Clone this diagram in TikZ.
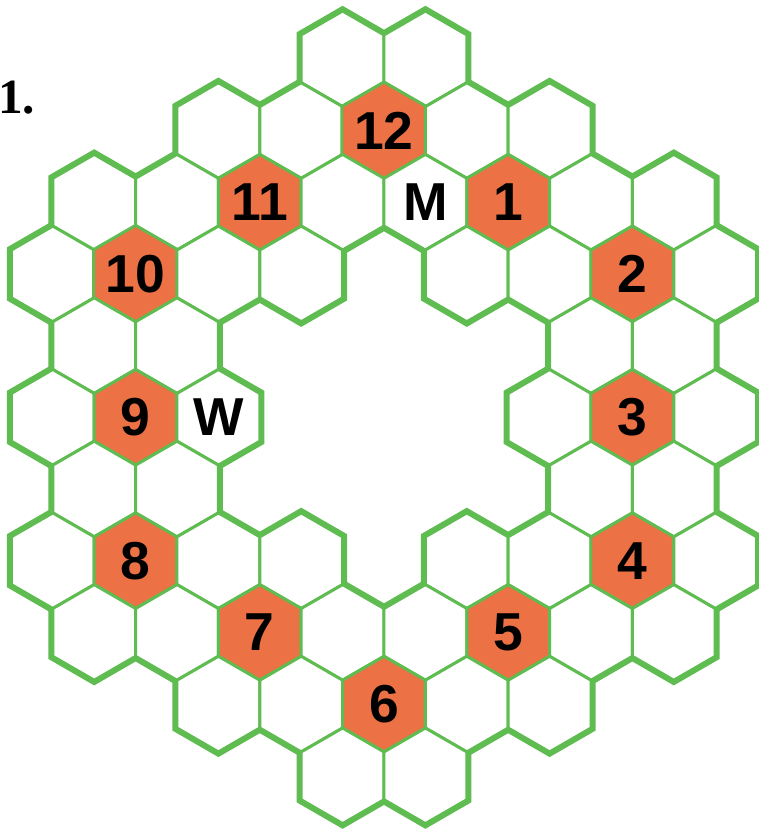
\documentclass[tikz,border=0pt]{standalone}
\usepackage{fontspec}
\setmainfont{Liberation Sans}
\newfontfamily\serifbold{Liberation Serif}
\usetikzlibrary{shapes.geometric, backgrounds}
\definecolor{hexgreen}{RGB}{95, 188, 80}
\definecolor{spot}{RGB}{236, 113, 68}

% row / column (half steps) / fill / label
\newcommand{\cells}{%
  0/7/white/, 0/9/white/,
  1/4/white/, 1/6/white/, 1/8/spot/12, 1/10/white/, 1/12/white/,
  2/1/white/, 2/3/white/, 2/5/spot/11, 2/7/white/, 2/9/white/M, 2/11/spot/1, 2/13/white/, 2/15/white/,
  3/0/white/, 3/2/spot/10, 3/4/white/, 3/6/white/, 3/10/white/, 3/12/white/, 3/14/spot/2, 3/16/white/,
  4/1/white/, 4/3/white/, 4/13/white/, 4/15/white/,
  5/0/white/, 5/2/spot/9, 5/4/white/W, 5/12/white/, 5/14/spot/3, 5/16/white/,
  6/1/white/, 6/3/white/, 6/13/white/, 6/15/white/,
  7/0/white/, 7/2/spot/8, 7/4/white/, 7/6/white/, 7/10/white/, 7/12/white/, 7/14/spot/4, 7/16/white/,
  8/1/white/, 8/3/white/, 8/5/spot/7, 8/7/white/, 8/9/white/, 8/11/spot/5, 8/13/white/, 8/15/white/,
  9/4/white/, 9/6/white/, 9/8/spot/6, 9/10/white/, 9/12/white/,
  10/7/white/, 10/9/white/}

\begin{document}
\begin{tikzpicture}[
    x=0.025cm, y=-0.025cm,
    hexcell/.style={regular polygon, regular polygon sides=6, shape border rotate=30,
      minimum size=2.39cm, inner sep=0pt, outer sep=0pt, draw=hexgreen, line width=0.075cm,
      font=\fontsize{38}{38}\selectfont\bfseries},
    rim/.style={draw=hexgreen, line width=0.225cm}
]
\useasboundingbox (0,0) rectangle (758,830);

\foreach \r/\k/\col/\txt in \cells
  \node[hexcell, fill=\col] (hex-\r-\k) at ({52.8+41.4*\k},{58.8+71.7*\r}) {\txt};

% thick outline, half of it hidden under the fills
\begin{scope}[on background layer]
\foreach \r/\k/\col/\txt in \cells
  \draw[rim] (hex-\r-\k.corner 1) -- (hex-\r-\k.corner 2) -- (hex-\r-\k.corner 3)
    -- (hex-\r-\k.corner 4) -- (hex-\r-\k.corner 5) -- (hex-\r-\k.corner 6) -- cycle;
\end{scope}

\node[anchor=base west, inner sep=0pt, font=\serifbold\bfseries\fontsize{35}{35}\selectfont] (num) at (-2,113) {1.};

\end{tikzpicture}
\end{document}
